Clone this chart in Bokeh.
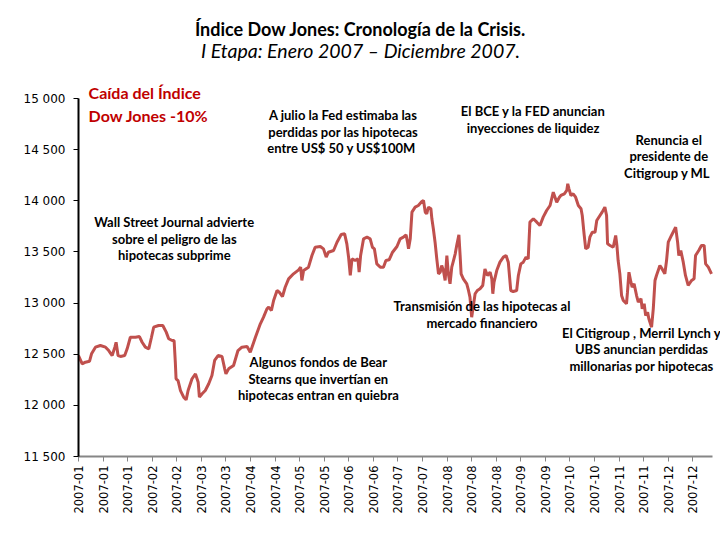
from bokeh.plotting import figure
from bokeh.models import Range1d, FixedTicker, Label
from bokeh.embed import file_html
from bokeh.resources import INLINE
import math

# trading-day index (0 = first session of 2007) and Dow Jones close
days = [0, 1.5, 2.8, 4.5, 5.3, 6.9, 8.9, 11.0, 12.3, 13.7, 14.8, 15.3, 16.1, 17.1, 18.8, 19.8,
        21.1, 23.2, 24.8, 25.9, 27.2, 28.6, 29.7, 30.6, 32.6, 34.3, 35.7, 36.7, 38.1, 38.9,
        39.4, 39.7, 40.5, 41.5, 42.8, 43.8, 44.6, 46.2, 47.6, 48.7, 49.2, 50.3, 51.6, 53.0,
        54.3, 55.4, 56.8, 58.4, 59.5, 60.0, 61.1, 63.1, 64.9, 66.5, 68.6, 69.9, 70.6, 72.0,
        74.0, 75.3, 76.7, 77.4, 78.5, 79.4, 80.8, 81.7, 83.0, 84.1, 85.5, 87.5, 89.6, 90.4,
        90.9, 91.6, 93.6, 95.0, 96.3, 98.4, 99.7, 100.8, 101.7, 103.8, 105.2, 106.9, 108.3,
        109.2, 109.9, 110.6, 111.3, 112.6, 113.7, 114.2, 114.8, 116.0, 117.4, 118.7, 119.6,
        120.4, 121.4, 122.8, 124.1, 125.1, 126.4, 127.8, 129.6, 130.9, 132.2, 133.3, 133.9,
        134.3, 135.0, 135.7, 137.0, 138.3, 139.7, 140.4, 141.1, 141.7, 142.4, 143.4, 143.8,
        144.4, 145.1, 145.8, 146.5, 147.2, 147.8, 148.5, 149.2, 149.9, 150.5, 151.2, 151.9,
        152.6, 153.3, 153.9, 154.8, 155.3, 155.7, 156.6, 158.0, 158.7, 159.3, 160.0, 160.7,
        161.4, 162.3, 163.4, 164.5, 165.4, 166.4, 167.5, 168.2, 168.6, 169.1, 170.2, 171.5,
        172.9, 174.0, 174.9, 175.9, 176.9, 178.3, 179.0, 180.0, 181.0, 182.1, 183.0, 183.7,
        185.1, 186.5, 187.8, 189.1, 190.5, 191.9, 193.2, 194.6, 195.7, 196.3, 197.7, 198.7,
        199.1, 199.6, 200.4, 201.3, 202.3, 203.4, 204.5, 205.0, 205.8, 206.4, 207.4, 208.1,
        209.1, 210.2, 210.9, 212.2, 213.1, 214.2, 214.9, 215.3, 216.3, 217.6, 218.6, 219.1,
        219.6, 220.3, 221.0, 221.7, 223.0, 223.4, 224.0, 224.8, 225.3, 226.1, 227.1, 227.8,
        228.9, 229.4, 230.2, 230.8, 231.6, 232.1, 233.2, 233.9, 234.6, 235.2, 236.6, 237.5,
        238.6, 239.3, 240.0, 241.3, 243.0, 243.8, 244.3, 245.1, 246.1, 247.0, 248.1, 249.5,
        250.5, 251.1, 252.4, 253.5, 254.6, 255.2, 256.3, 257.6]
dow = [12487, 12406, 12422, 12432, 12504, 12569, 12585, 12569, 12536, 12487, 12569, 12617,
       12487, 12478, 12487, 12553, 12666, 12666, 12673, 12617, 12569, 12553, 12666, 12764,
       12781, 12781, 12716, 12651, 12634, 12634, 12422, 12260, 12243, 12145, 12080, 12054,
       12145, 12260, 12308, 12226, 12080, 12113, 12145, 12211, 12292, 12439, 12487, 12478,
       12357, 12308, 12357, 12390, 12536, 12569, 12575, 12520, 12569, 12666, 12797, 12862,
       12944, 12960, 12927, 13025, 13123, 13106, 13064, 13155, 13237, 13286, 13325, 13351,
       13221, 13318, 13351, 13465, 13546, 13553, 13530, 13449, 13497, 13514, 13595, 13670,
       13677, 13579, 13449, 13270, 13432, 13416, 13432, 13302, 13465, 13628, 13644, 13628,
       13546, 13530, 13383, 13351, 13351, 13416, 13423, 13497, 13553, 13628, 13644, 13667,
       13595, 13530, 13628, 13889, 13938, 13954, 13993, 14003, 13889, 13873, 13938, 13922,
       13824, 13726, 13595, 13432, 13286, 13302, 13367, 13318, 13221, 13465, 13286, 13188,
       13351, 13416, 13481, 13563, 13667, 13465, 13286, 13237, 13188, 13123, 13058, 12862,
       12976, 13091, 13123, 13140, 13172, 13334, 13270, 13302, 13237, 13091, 13204, 13318,
       13400, 13449, 13465, 13400, 13123, 13113, 13123, 13270, 13383, 13400, 13449, 13432,
       13791, 13824, 13791, 13758, 13840, 13905, 13954, 14084, 13986, 14035, 14052, 14068,
       14101, 14166, 14117, 14052, 14068, 14035, 13954, 13922, 13856, 13661, 13530, 13546,
       13644, 13693, 13693, 13807, 13856, 13889, 13938, 13856, 13579, 13563, 13546, 13661,
       13563, 13416, 13286, 13074, 13025, 12993, 13106, 13302, 13204, 13155, 13188, 13074,
       13009, 13042, 12944, 12993, 12878, 12911, 12846, 12764, 12944, 13221, 13270, 13367,
       13334, 13286, 13416, 13595, 13661, 13742, 13595, 13465, 13514, 13400, 13270, 13172,
       13221, 13237, 13465, 13514, 13563, 13563, 13383, 13351, 13286]

x_ticks = [0, 10, 20, 30, 40, 50, 60, 70, 80, 90, 100, 110, 120, 130, 140, 150, 160, 170,
           180, 190, 200, 210, 220, 230, 240, 250]
x_labels = ["2007-01", "2007-01", "2007-01", "2007-02", "2007-02", "2007-03", "2007-03",
            "2007-04", "2007-04", "2007-05", "2007-05", "2007-06", "2007-06", "2007-07",
            "2007-07", "2007-08", "2007-08", "2007-08", "2007-09", "2007-09", "2007-10",
            "2007-10", "2007-11", "2007-11", "2007-12", "2007-12"]
y_ticks = [11500, 12000, 12500, 13000, 13500, 14000, 14500, 15000]
y_labels = ["11 500", "12 000", "12 500", "13 000", "13 500", "14 000", "14 500", "15 000"]

title_text = "Índice Dow Jones: Cronología de la Crisis."
subtitle_text = "I Etapa: Enero 2007 \u2013 Diciembre 2007."

# event notes: anchor day, level of first line, lines
notes_x = [107.7, 185.0, 240.2, 39.0, 97.6, 164.2, 229.1]
notes_y = [14834, 14873, 14599, 13788, 12419, 12967, 12712]
notes_lines = [
    ["A julio la Fed estimaba las", "perdidas por las hipotecas", "entre US$ 50 y  US$100M"],
    ["El BCE y la FED anuncian", "inyecciones de liquidez"],
    ["Renuncia el", "presidente de", "Citigroup  y ML"],
    ["Wall Street Journal advierte", "sobre el peligro de las", "hipotecas subprime"],
    ["Algunos fondos de Bear", "Stearns que invertían en", "hipotecas entran en quiebra"],
    ["Transmisión de las hipotecas al", "mercado financiero"],
    ["El Citigroup , Merril Lynch y", "UBS anuncian perdidas", "millonarias por hipotecas"],
]
drop_x = 4.1
drop_y = 15059
drop_lines = ["Caída del Índice", "Dow Jones -10%"]

W, H = 720, 540
LEFT, BOTTOM = 78, 84
AXIS_TOP_PX, AXIS_RIGHT_PX = 98, 712
y0, y_top_tick = 11500, 15000
x0, x_last = 0, 258
val_per_px = (y_top_tick - y0) / (H - BOTTOM - AXIS_TOP_PX)
day_per_px = (x_last - x0) / (AXIS_RIGHT_PX - LEFT)
# the plotting frame covers the whole page above/right of the axes so notes are not clipped
y1 = y0 + (H - BOTTOM) * val_per_px
x1 = x0 + (W - LEFT) * day_per_px

p = figure(width=W, height=H, output_backend="svg", toolbar_location=None,
           x_range=Range1d(x0, x1), y_range=Range1d(y0, y1),
           min_border_left=LEFT, min_border_right=0, min_border_bottom=BOTTOM,
           min_border_top=0)
p.outline_line_color = None
p.xgrid.grid_line_color = None
p.ygrid.grid_line_color = None

p.line(days, dow, line_color="#c0504d", line_width=3)

# titles, centred on the page
cx = (W / 2 - LEFT) * day_per_px
p.add_layout(Label(x=cx, y=y_top_tick + 70 * val_per_px, text=title_text, text_font="Lato",
                   text_font_size="18px", text_font_style="bold", text_color="#000000",
                   text_align="center", text_baseline="middle"))
p.add_layout(Label(x=cx, y=y_top_tick + 48 * val_per_px, text=subtitle_text, text_font="Lato",
                   text_font_size="19.5px", text_font_style="italic", text_color="#000000",
                   text_align="center", text_baseline="middle"))

for nx, ny, lines in zip(notes_x, notes_y, notes_lines):
    for i, t in enumerate(lines):
        p.add_layout(Label(x=nx, y=ny - i * 16.5 * val_per_px, text=t, text_font="Lato",
                           text_font_size="13px", text_font_style="bold",
                           text_color="#000000", text_align="center",
                           text_baseline="middle"))
for i, t in enumerate(drop_lines):
    p.add_layout(Label(x=drop_x, y=drop_y - i * 23 * val_per_px, text=t, text_font="Lato",
                       text_font_size="16px", text_font_style="bold", text_color="#c00000",
                       text_align="left", text_baseline="middle"))

xa = p.xaxis[0]
xa.ticker = FixedTicker(ticks=x_ticks)
xa.bounds = (x0, x_last)
xa.major_label_overrides = {t: l for t, l in zip(x_ticks, x_labels)}
xa.major_label_orientation = math.pi / 2
xa.axis_line_color = "#868686"
xa.axis_line_width = 2
xa.major_tick_line_color = "#868686"
xa.major_tick_out = 5
xa.major_tick_in = 0
xa.minor_tick_line_color = None
xa.major_label_text_font = "DejaVu Sans"
xa.major_label_text_font_size = "11.5px"
xa.major_label_text_color = "#000000"
xa.major_label_standoff = 4

ya = p.yaxis[0]
ya.ticker = FixedTicker(ticks=y_ticks)
ya.bounds = (y0, y_top_tick)
ya.major_label_overrides = {t: l for t, l in zip(y_ticks, y_labels)}
ya.axis_line_color = "#000000"
ya.axis_line_width = 2
ya.major_tick_line_color = "#000000"
ya.major_tick_out = 5
ya.major_tick_in = 0
ya.minor_tick_line_color = None
ya.major_label_text_font = "DejaVu Sans"
ya.major_label_text_font_size = "12px"
ya.major_label_text_color = "#000000"
ya.major_label_standoff = 8

open("out.html", "w").write(file_html(p, INLINE))
